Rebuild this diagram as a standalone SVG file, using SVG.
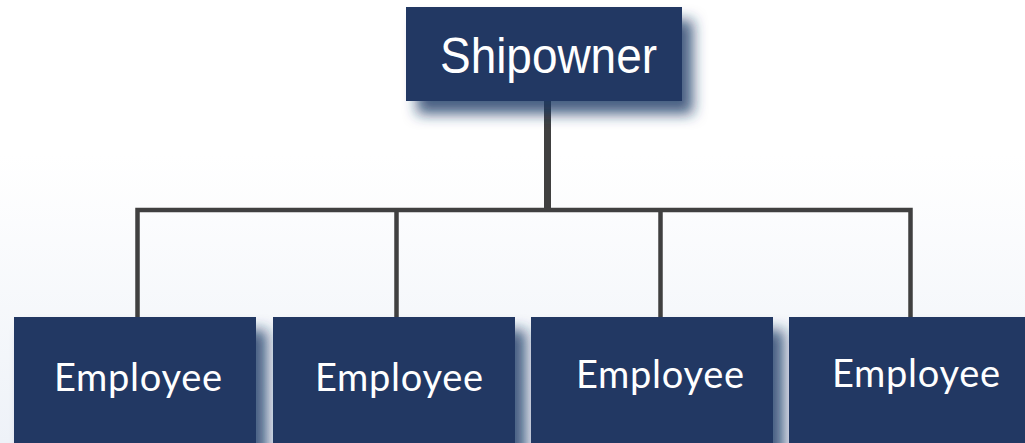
<svg xmlns="http://www.w3.org/2000/svg" width="1025" height="443" viewBox="0 0 1025 443">
<defs>
<linearGradient id="bg" x1="0" y1="0" x2="0" y2="1">
<stop offset="0" stop-color="#ffffff"/>
<stop offset="0.35" stop-color="#ffffff"/>
<stop offset="1" stop-color="#eef2f8"/>
</linearGradient>
<filter id="sh" x="-20%" y="-30%" width="150%" height="190%">
<feDropShadow dx="11" dy="13" stdDeviation="7" flood-color="#1f3864" flood-opacity="0.8"/>
</filter>
<style>
.box{fill:#203864;filter:url(#sh)}
.lbl{fill:#ffffff;text-anchor:middle}
.emp{font-family:Lato,"Open Sans",sans-serif;font-size:38px}
.own{font-family:"Liberation Sans",Arial,sans-serif;font-size:50px}
.ln{stroke:#404040;fill:none;stroke-width:4.5}
</style>
</defs>
<rect width="1025" height="443" fill="url(#bg)"/>
<g id="connectors">
<line class="ln" x1="547.5" y1="101" x2="547.5" y2="210" style="stroke-width:7"/>
<polyline class="ln" points="137.5,317 137.5,210 910.5,210 910.5,317"/>
<line class="ln" x1="396.5" y1="210" x2="396.5" y2="317"/>
<line class="ln" x1="660.5" y1="210" x2="660.5" y2="317"/>
</g>
<g id="shipowner">
<rect class="box" x="406" y="7" width="276" height="94"/>
<text class="lbl own" x="548.5" y="73" textLength="217" lengthAdjust="spacingAndGlyphs">Shipowner</text>
</g>
<g id="employee1">
<rect class="box" x="14" y="317" width="242" height="140"/>
<text class="lbl emp" x="138" y="391" textLength="168" lengthAdjust="spacing">Employee</text>
</g>
<g id="employee2">
<rect class="box" x="273" y="317" width="242" height="140"/>
<text class="lbl emp" x="399" y="391" textLength="168" lengthAdjust="spacing">Employee</text>
</g>
<g id="employee3">
<rect class="box" x="531" y="317" width="242" height="140"/>
<text class="lbl emp" x="660" y="388" textLength="168" lengthAdjust="spacing">Employee</text>
</g>
<g id="employee4">
<rect class="box" x="789" y="317" width="250" height="140"/>
<text class="lbl emp" x="916" y="387" textLength="168" lengthAdjust="spacing">Employee</text>
</g>
</svg>
